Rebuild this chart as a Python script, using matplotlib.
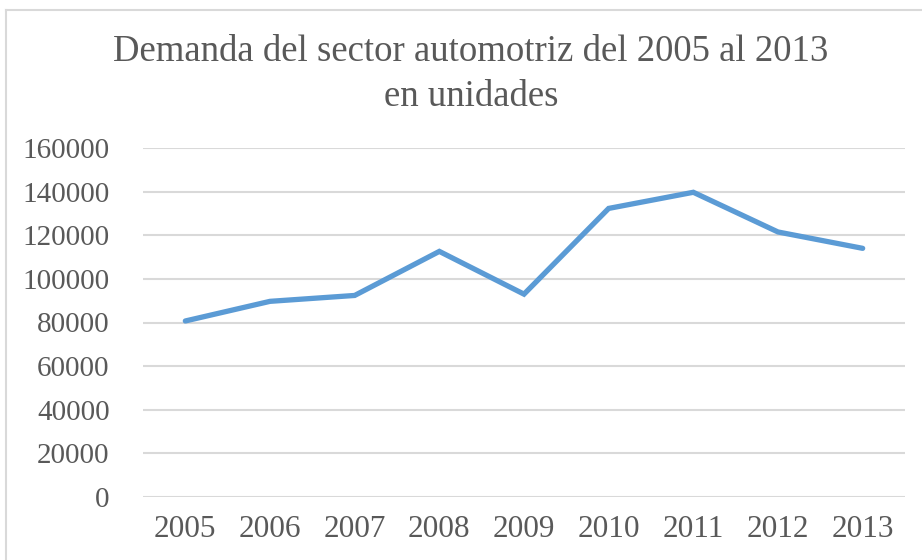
import matplotlib
matplotlib.use('Agg')
import matplotlib.pyplot as plt
from matplotlib.lines import Line2D

# datos
years = ['2005', '2006', '2007', '2008', '2009', '2010', '2011', '2012', '2013']
demanda = [80700, 89700, 92400, 112600, 93000, 132300, 139700, 121500, 114000]
yticks = [0, 20000, 40000, 60000, 80000, 100000, 120000, 140000, 160000]

plt.rcParams['font.family'] = ['Liberation Serif', 'DejaVu Serif']

fig = plt.figure(figsize=(9.22, 5.6), dpi=100)
ax = fig.add_axes([143 / 922, 63 / 560, 762 / 922, 349 / 560])

x = range(len(years))
ax.plot(x, demanda, color='#5b9bd5', linewidth=3.8, solid_capstyle='round',
        solid_joinstyle='miter')

ax.set_xlim(-0.5, len(years) - 0.5)
ax.set_ylim(0, 160000)
ax.set_yticks(yticks)
ax.set_yticklabels([str(v) for v in yticks])
ax.set_xticks(list(x))
ax.set_xticklabels(years)

ax.grid(axis='y', color='#d9d9d9', linewidth=1.5)
ax.set_axisbelow(True)
for s in ax.spines.values():
    s.set_visible(False)
ax.tick_params(axis='both', length=0, colors='#595959')
ax.tick_params(axis='y', labelsize=21, pad=24)
ax.tick_params(axis='x', labelsize=22.5, pad=13)

fig.text(471 / 922, 1 - 52 / 560, 'Demanda del sector automotriz del 2005 al 2013',
         ha='center', va='center', fontsize=26.5, color='#595959')
fig.text(471 / 922, 1 - 97 / 560, 'en unidades',
         ha='center', va='center', fontsize=26.5, color='#595959')

# marco exterior (solo borde superior e izquierdo visibles)
fig.add_artist(Line2D([6 / 922, 6 / 922], [0, 1 - 10 / 560], color='#d9d9d9', linewidth=1.5,
                      transform=fig.transFigure))
fig.add_artist(Line2D([6 / 922, 1], [1 - 10 / 560, 1 - 10 / 560], color='#d9d9d9', linewidth=1.5,
                      transform=fig.transFigure))

fig.savefig('out.png', dpi=100)
